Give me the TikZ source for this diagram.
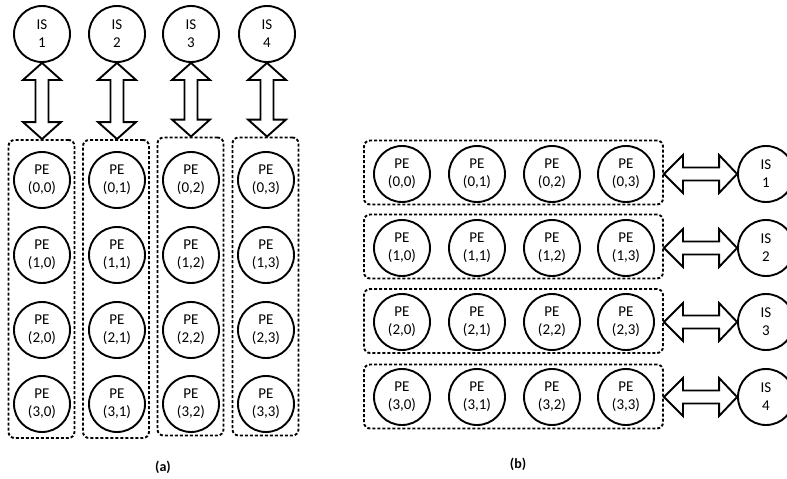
\documentclass[tikz,border=0pt]{standalone}
\usepackage{fontspec}
\setmainfont{Carlito}
\usetikzlibrary{calc}
\begin{document}
\begin{tikzpicture}[x=1pt,y=-1pt,
  pe/.style={circle,draw,line width=1.9pt,minimum size=56pt,inner sep=0pt,align=center,font=\fontsize{15}{18}\selectfont},
  grp/.style={draw,rounded corners=6pt,line width=1.9pt,dash pattern=on 3pt off 2pt,inner sep=0pt},
  dbl/.style={draw,fill=white,line width=1.9pt,line join=miter},
  lbl/.style={font=\fontsize{14}{16}\selectfont\bfseries}]
\useasboundingbox (0,0) rectangle (787,479);
% ---------- (a) ----------
\foreach \c/\x/\bx/\by in {1/42/41.5/289, 2/117/116/289, 3/191/190.5/286.5, 4/267/265.5/286.5}{
  \node[grp,minimum width=66pt,minimum height=298pt] (ca\c) at (\bx,\by) {};
  \node[pe] (isa\c) at (\x,34) {IS\\\c};
}
\foreach \r/\y in {0/180,1/255,2/330,3/404}{
  \foreach \c/\x in {0/42,1/117,2/191,3/266}{
    \node[pe] (pea\r\c) at (\x,\y) {PE\\(\r,\c)};
  }
}
\foreach \c in {1,2,3,4}{
  \draw[dbl] (isa\c.south) -- ++(19,17) -- ++(-12.5,0)
    -- ($(isa\c.south |- ca\c.north)+(6.5,-17)$) -- ++(12.5,0)
    -- (isa\c.south |- ca\c.north) -- ++(-19,-17) -- ++(12.5,0)
    -- ($(isa\c.south)+(-6.5,17)$) -- ++(-12.5,0) -- cycle;
}
\node[lbl] (la) at (163,467) {(a)};
% ---------- (b) ----------
\foreach \r/\y/\by in {0/174/172.5,1/248/246.5,2/322/321,3/397/396.5}{
  \node[grp,minimum width=299pt,minimum height=64pt] (rb\r) at (513.5,\by) {};
  \foreach \c/\x in {0/402,1/477,2/552,3/626}{
    \node[pe] (peb\r\c) at (\x,\y) {PE\\(\r,\c)};
  }
  \pgfmathtruncatemacro{\n}{\r+1}
  \node[pe] (isb\r) at (766,\y) {IS\\\n};
  \draw[dbl] (isb\r.west) -- ++(-18,-19) -- ++(0,12.5)
    -- ($(rb\r.east |- isb\r.west)+(19,-6.5)$) -- ++(0,-12.5)
    -- (rb\r.east |- isb\r.west) -- ++(19,19) -- ++(0,-12.5)
    -- ($(isb\r.west)+(-18,6.5)$) -- ++(0,12.5) -- cycle;
}
\node[lbl] (lb) at (518,464) {(b)};
\end{tikzpicture}
\end{document}
